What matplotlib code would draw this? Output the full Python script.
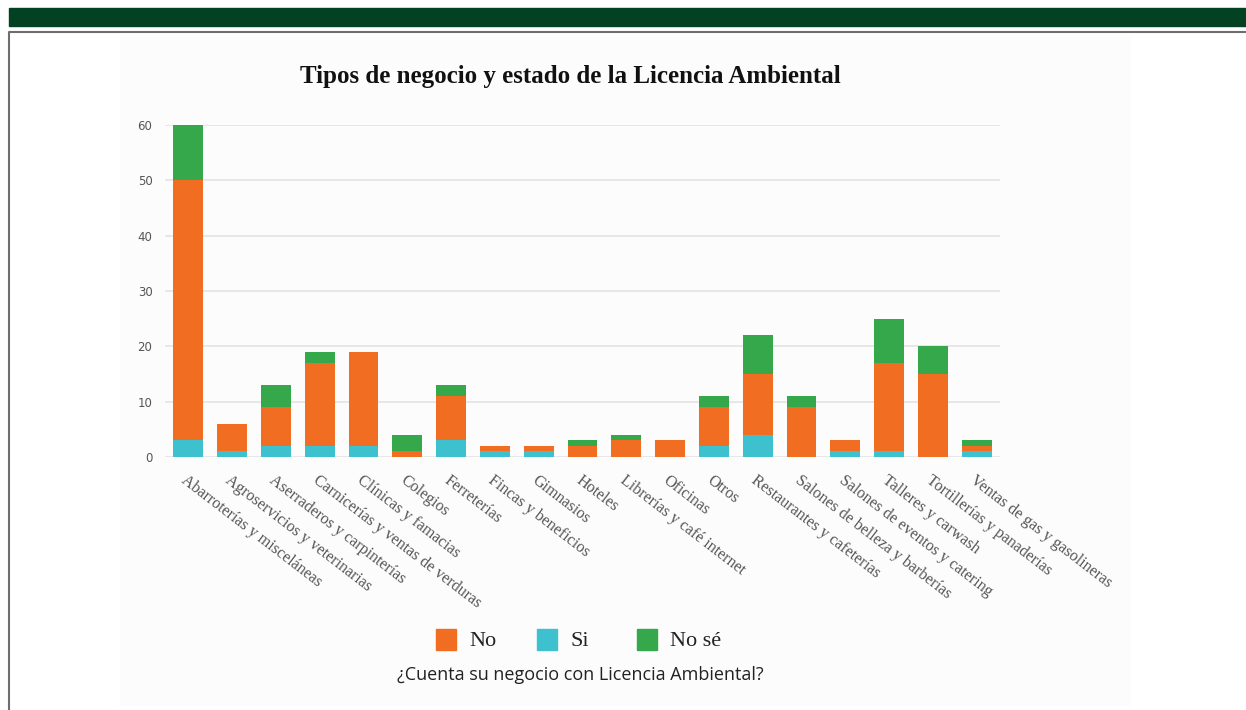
import numpy as np
import matplotlib
matplotlib.use('Agg')
from matplotlib import pyplot as plt
from matplotlib.patches import Rectangle
from matplotlib.lines import Line2D

categorias = ['Abarroterías y misceláneas', 'Agroservicios y veterinarias',
              'Aserraderos y carpinterías', 'Carnicerías y ventas de verduras',
              'Clínicas y famacias', 'Colegios', 'Ferreterías', 'Fincas y beneficios',
              'Gimnasios', 'Hoteles', 'Librerías y café internet', 'Oficinas', 'Otros',
              'Restaurantes y cafeterías', 'Salones de belleza y barberías',
              'Salones de eventos y catering', 'Talleres y carwash',
              'Tortillerías y panaderías', 'Ventas de gas y gasolineras']
si = [3, 1, 2, 2, 2, 0, 3, 1, 1, 0, 0, 0, 2, 4, 0, 1, 1, 0, 1]
no = [47, 5, 7, 15, 17, 1, 8, 1, 1, 2, 3, 3, 7, 11, 9, 2, 16, 15, 1]
no_se = [10, 0, 4, 2, 0, 3, 2, 0, 0, 1, 1, 0, 2, 7, 2, 0, 8, 5, 1]

c_no = '#f06d22'
c_si = '#3ec1cf'
c_nose = '#34a84b'

W, H = 1246, 710
fig = plt.figure(figsize=(W / 100, H / 100), dpi=100)

# marco de la pagina
fig.patches.append(Rectangle((9 / W, 1 - 26 / H), 1 - 9 / W, 18 / H, transform=fig.transFigure,
                             color='#024122', zorder=-5))
fig.patches.append(Rectangle((120 / W, 1 - 705 / H), 1010 / W, 670 / H, transform=fig.transFigure,
                             color='#fcfcfc', zorder=-5))
fig.lines.append(Line2D([9 / W, 9 / W, 1], [0, 1 - 32 / H, 1 - 32 / H], transform=fig.transFigure,
                        color='#6e6e6e', lw=1.5, zorder=-4))

ax = fig.add_axes([165 / W, 1 - 457 / H, 835 / W, 332 / H])
ax.set_zorder(2)
ax.set_facecolor('none')
x = np.arange(len(categorias))
si_a = np.array(si)
no_a = np.array(no)
ns_a = np.array(no_se)
bw = 0.68
ax.bar(x, si_a, bw, color=c_si, zorder=3)
ax.bar(x, no_a, bw, bottom=si_a, color=c_no, zorder=3)
ax.bar(x, ns_a, bw, bottom=si_a + no_a, color=c_nose, zorder=3)

ax.set_xlim(-0.53, len(categorias) - 0.47)
ax.set_ylim(0, 60)
ax.set_yticks(range(0, 61, 10))
ax.grid(axis='y', color='#e3e3e3', lw=1.2, zorder=0)
for s in ax.spines.values():
    s.set_visible(False)
ax.tick_params(axis='y', length=0, labelsize=8.5, labelcolor='#555555', pad=9)
ax.tick_params(axis='x', length=0, pad=11)
ax.set_xticks(x)
ax.set_xticklabels(categorias, rotation=-37.5, ha='left', va='top', rotation_mode='anchor',
                   family='Liberation Serif', fontsize=11.5, color='#555555')

fig.text(570 / W, 1 - 76 / H, 'Tipos de negocio y estado de la Licencia Ambiental',
         family='Liberation Serif', weight='bold', fontsize=18, ha='center', va='center',
         color='#111111')

# leyenda
items = [('No', c_no, 436), ('Si', c_si, 537), ('No sé', c_nose, 637)]
for txt, col, px in items:
    fig.patches.append(Rectangle((px / W, 1 - 650 / H), 20 / W, 21 / H, transform=fig.transFigure,
                                 color=col, zorder=1))
    fig.text((px + 33) / W, 1 - 641 / H, txt, family='Liberation Serif', fontsize=16,
             ha='left', va='center', color='#222222')
fig.text(580 / W, 1 - 675 / H, '¿Cuenta su negocio con Licencia Ambiental?',
         family='Open Sans', fontsize=13, ha='center', va='center', color='#222222')

fig.savefig('out.png', dpi=100)
